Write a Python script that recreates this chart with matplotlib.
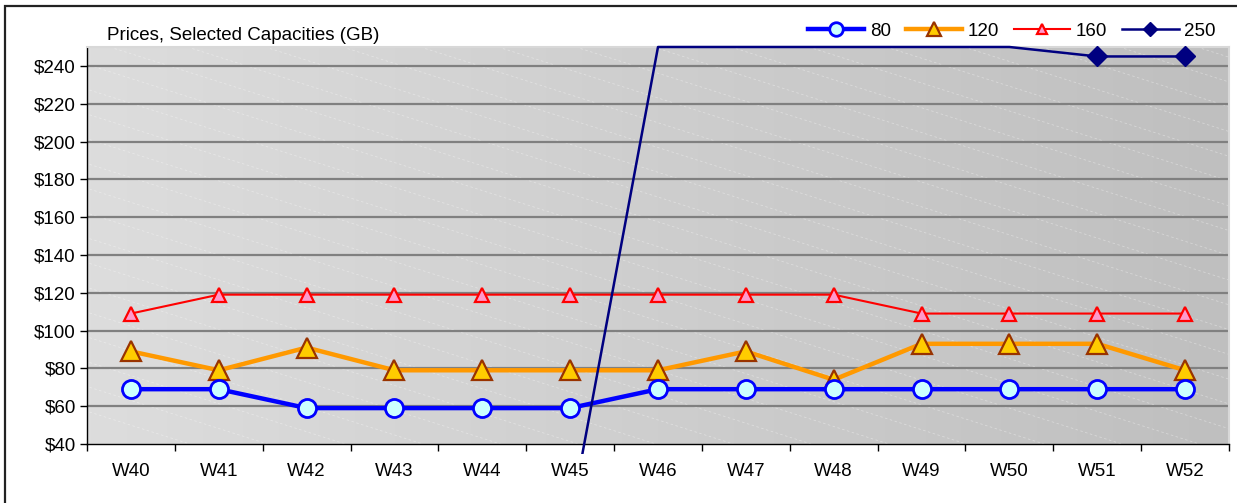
import numpy as np
import matplotlib
matplotlib.use('Agg')
from matplotlib import pyplot as plt
from matplotlib.patches import Rectangle
from matplotlib.lines import Line2D

plt.rcParams['font.family'] = ['Liberation Sans', 'DejaVu Sans']

# data
weeks = ['W40', 'W41', 'W42', 'W43', 'W44', 'W45', 'W46',
         'W47', 'W48', 'W49', 'W50', 'W51', 'W52']
price_80 = [69, 69, 59, 59, 59, 59, 69, 69, 69, 69, 69, 69, 69]
price_120 = [89, 79, 91, 79, 79, 79, 79, 89, 74, 93, 93, 93, 79]
price_160 = [109, 119, 119, 119, 119, 119, 119, 119, 119, 109, 109, 109, 109]
# 250 GB: nothing before W45, off-scale (drawn at the axis top) W46-W50
price_250 = [np.nan, np.nan, np.nan, np.nan, np.nan, 0, 250, 250, 250, 250, 250, 245, 245]
y_ticks = [40, 60, 80, 100, 120, 140, 160, 180, 200, 220, 240]

fs = 13.5

fig = plt.figure(figsize=(12.37, 5.03), dpi=100)
ax = fig.add_axes([87/1237, 59/503, 1142/1237, 397/503])
x = np.arange(len(weeks))

# grey gradient background with faint diagonal dashes
grad = np.linspace(0, 1, 256).reshape(1, -1)
ax.imshow(grad, extent=[0, 1, 0, 1], transform=ax.transAxes, aspect='auto',
          cmap=matplotlib.colors.LinearSegmentedColormap.from_list('g', ['#dddddd', '#bfbfbf']),
          zorder=0)
for x0 in np.arange(-1.0, 1.1, 0.068):
    ax.add_line(Line2D([x0, x0 + 1.09], [1, 0], transform=ax.transAxes, color='white',
                       lw=0.6, ls=(0, (3, 3)), alpha=0.35, zorder=0.5))

for yv in y_ticks[1:]:
    ax.axhline(yv, color='#808080', lw=1.6, zorder=1)

ax.plot(x, price_160, color='#ff0000', lw=1.5, marker='^', ms=10, mfc='#ff99cc',
        mec='#ff0000', mew=1.6, label='160', zorder=3)
ax.plot(x, price_120, color='#ff9900', lw=3.2, marker='^', ms=14, mfc='#ffcc00',
        mec='#993300', mew=1.6, label='120', zorder=4)
ax.plot(x, price_80, color='#0000ff', lw=3.2, marker='o', ms=13, mfc='#ccffff',
        mec='#0000ff', mew=2.0, label='80', zorder=5)
l250, = ax.plot(x, price_250, color='#000080', lw=1.8, marker='D', ms=10, mfc='#000080',
                mec='#000080', markevery=[11, 12], label='250', zorder=6)
clip = Rectangle((0, -0.024), 1, 1.035, transform=ax.transAxes, fill=False)
l250.set_clip_path(clip)

ax.set_xlim(-0.5, len(weeks) - 0.5)
ax.set_ylim(40, 250)
ax.set_xticks(np.arange(-0.5, len(weeks), 1))
ax.set_xticklabels([])
ax.set_xticks(x, minor=True)
ax.set_xticklabels(weeks, minor=True)
ax.tick_params(axis='x', which='minor', length=0, pad=14, labelsize=fs)
ax.tick_params(axis='x', which='major', direction='out', length=5, width=1, color='black')
ax.set_yticks(y_ticks)
ax.set_yticklabels(['$%d' % v for v in y_ticks])
ax.tick_params(axis='y', direction='out', length=5, width=1, labelsize=fs, pad=3)

for s in ['left', 'bottom']:
    ax.spines[s].set_color('black')
    ax.spines[s].set_linewidth(1.0)
for s in ['top', 'right']:
    ax.spines[s].set_color('#d8d8d8')
    ax.spines[s].set_linewidth(1.5)

fig.text(107/1237, 1 - 35/503, 'Prices, Selected Capacities (GB)', fontsize=fs,
         va='center', ha='left')

handles, labels = ax.get_legend_handles_labels()
order = [2, 1, 0, 3]
leg = fig.legend([handles[i] for i in order], [labels[i] for i in order],
                 loc='center right', bbox_to_anchor=(1225/1237, 1 - 31/503), ncol=4,
                 frameon=False, fontsize=fs, handlelength=3.0, columnspacing=0.8,
                 handletextpad=0.3, borderpad=0, markerscale=0.75)
# legend 250 marker in the middle of the sample line
leg.legend_handles[3].set_markevery([1])

fig.add_artist(Rectangle((5/1237, -0.1), 1.2, 1 - 6/503 + 0.1, transform=fig.transFigure,
                         fill=False, ec='#222222', lw=1.6))

fig.savefig('out.png', dpi=100)
